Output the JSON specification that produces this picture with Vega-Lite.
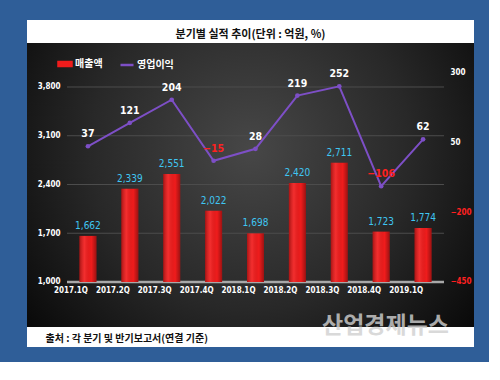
{
  "$schema": "https://vega.github.io/schema/vega-lite/v6.json",
  "background": "#2f5e98",
  "padding": {"left": 27, "top": 20, "right": 15, "bottom": 15},
  "spacing": 0,
  "bounds": "flush",
  "config": {"font": "Noto Sans CJK KR", "view": {"stroke": null}},
  "datasets": {
    "main": [
      {"q": "2017.1Q", "s": 1662, "p": 37},
      {"q": "2017.2Q", "s": 2339, "p": 121},
      {"q": "2017.3Q", "s": 2551, "p": 204},
      {"q": "2017.4Q", "s": 2022, "p": -15},
      {"q": "2018.1Q", "s": 1698, "p": 28},
      {"q": "2018.2Q", "s": 2420, "p": 219},
      {"q": "2018.3Q", "s": 2711, "p": 252},
      {"q": "2018.4Q", "s": 1723, "p": -106},
      {"q": "2019.1Q", "s": 1774, "p": 62}
    ]
  },
  "vconcat": [
    {
      "width": 447,
      "height": 23,
      "view": {"fill": "white", "stroke": null},
      "data": {"values": [{"t": "분기별 실적 추이(단위 : 억원, %)"}]},
      "mark": {"type": "text", "fontSize": 11, "fontWeight": "bold", "color": "#111111", "dy": 3},
      "encoding": {"text": {"field": "t"}}
    },
    {
      "width": 447,
      "height": 284,
      "view": {
        "stroke": null,
        "fill": {
          "gradient": "radial",
          "x1": 0.5, "y1": 0.42, "r1": 0,
          "x2": 0.5, "y2": 0.42, "r2": 0.72,
          "stops": [
            {"offset": 0, "color": "#474747"},
            {"offset": 0.5, "color": "#282828"},
            {"offset": 1, "color": "#000000"}
          ]
        }
      },
      "data": {"name": "main"},
      "layer": [
        {
          "layer": [
            {
              "data": {"values": [{"g": 1700}, {"g": 2400}, {"g": 3100}, {"g": 3800}]},
              "mark": {"type": "rule", "color": "#4d4d4d", "strokeWidth": 1},
              "encoding": {
                "y": {
                  "field": "g", "type": "quantitative",
                  "scale": {"domain": [353.8, 4431.8], "nice": false, "zero": false},
                  "axis": {
                    "title": null, "orient": "left", "offset": -40, "values": [1000, 1700, 2400, 3100, 3800],
                    "format": ",.0f", "grid": false, "domain": false, "ticks": false, "labelPadding": 7,
                    "labelColor": "white", "labelFont": "DejaVu Sans Condensed, Liberation Sans", "labelFontSize": 8,
                    "labelFontWeight": "bold", "labelOverlap": false
                  }
                },
                "x": {"datum": "2017.1Q", "type": "nominal", "bandPosition": 0, "axis": {"title": null}},
                "x2": {"datum": "2019.1Q", "bandPosition": 1}
              }
            },
            {
              "data": {"values": [{"b": 1}]},
              "mark": {"type": "rule", "color": "#a8a8a8", "strokeWidth": 2.5},
              "encoding": {
                "y": {"datum": 1000, "type": "quantitative", "axis": {"title": null, "format": ",.0f"}},
                "x": {"datum": "2017.1Q", "type": "nominal", "bandPosition": 0, "axis": {"title": null}},
                "x2": {"datum": "2019.1Q", "bandPosition": 1}
              }
            },
            {
              "mark": {"type": "bar", "width": 17},
              "encoding": {
                "x": {
                  "field": "q", "type": "nominal", "sort": null,
                  "scale": {
                    "domain": ["2017.1Q", "2017.2Q", "2017.3Q", "2017.4Q", "2018.1Q", "2018.2Q", "2018.3Q", "2018.4Q", "2019.1Q"],
                    "paddingInner": 0, "paddingOuter": 0.8355, "align": 0.5714
                  },
                  "axis": {
                    "title": null, "orient": "bottom", "offset": -45, "domain": false, "ticks": false,
                    "labelAngle": 0, "labelPadding": 8, "labelColor": "white", "labelFont": "DejaVu Sans Condensed, Liberation Sans",
                    "labelFontSize": 8, "labelFontWeight": "bold", "labelOverlap": false
                  }
                },
                "y": {
                  "field": "s", "type": "quantitative",
                  "scale": {"domain": [353.8, 4431.8], "nice": false, "zero": false},
                  "axis": {"title": null, "format": ",.0f"}
                },
                "y2": {"datum": 1000},
                "color": {
                  "datum": "매출액", "type": "nominal",
                  "scale": {"domain": ["매출액", "영업이익"], "range": ["#f01c1c", "#7d4fc6"]},
                  "legend": {
                    "title": null, "orient": "none", "legendX": 30, "legendY": 36, "direction": "horizontal",
                    "padding": 0, "columnPadding": 12, "labelColor": "white", "labelFontSize": 10,
                    "labelFontWeight": "bold", "labelOffset": 2, "symbolSize": 170,
                    "encode": {
                      "symbols": {
                        "update": {
                          "shape": {"signal": "datum.value === '매출액' ? 'M-1,-0.3H1V0.3H-1Z' : 'stroke'"},
                          "fill": {"signal": "datum.value === '매출액' ? '#ee1c1c' : 'transparent'"},
                          "stroke": {"signal": "datum.value === '매출액' ? 'transparent' : '#8a5bd2'"},
                          "strokeWidth": {"value": 2.5},
                          "opacity": {"value": 1}
                        }
                      }
                    }
                  }
                }
              }
            },
            {
              "mark": {
                "type": "bar", "width": 17,
                "color": {
                  "gradient": "linear", "x1": 0, "y1": 0, "x2": 1, "y2": 0,
                  "stops": [
                    {"offset": 0, "color": "rgba(0,0,0,0.3)"},
                    {"offset": 0.3, "color": "rgba(255,120,120,0.2)"},
                    {"offset": 0.7, "color": "rgba(0,0,0,0)"},
                    {"offset": 1, "color": "rgba(0,0,0,0.35)"}
                  ]
                }
              },
              "encoding": {
                "x": {"field": "q", "type": "nominal", "sort": null},
                "y": {"field": "s", "type": "quantitative"},
                "y2": {"datum": 1000}
              }
            },
            {
              "mark": {"type": "text", "baseline": "alphabetic", "dy": -7, "font": "DejaVu Sans Condensed, Liberation Sans", "fontSize": 10, "color": "#3fc6f2"},
              "encoding": {
                "x": {"field": "q", "type": "nominal", "sort": null},
                "y": {"field": "s", "type": "quantitative"},
                "text": {"field": "s", "type": "quantitative", "format": ","}
              }
            }
          ]
        },
        {
          "layer": [
            {
              "mark": {"type": "line", "strokeWidth": 2, "point": {"filled": true, "size": 22}},
              "encoding": {
                "x": {"field": "q", "type": "nominal", "sort": null},
                "y": {
                  "field": "p", "type": "quantitative",
                  "scale": {"domain": [-611.5, 407.6], "nice": false, "zero": false},
                  "axis": {
                    "title": null, "orient": "right", "offset": -30, "values": [-450, -200, 50, 300],
                    "format": "d", "grid": false, "domain": false, "ticks": false, "labelPadding": 6,
                    "labelColor": {"condition": {"test": "datum.value < 0", "value": "#ff2020"}, "value": "white"},
                    "labelFont": "DejaVu Sans Condensed, Liberation Sans", "labelFontSize": 8, "labelFontWeight": "bold", "labelOverlap": false
                  }
                },
                "color": {"datum": "영업이익", "type": "nominal"}
              }
            },
            {
              "mark": {"type": "text", "baseline": "alphabetic", "dy": -9, "font": "DejaVu Sans Condensed, Liberation Sans", "fontSize": 10.5, "fontWeight": "bold"},
              "encoding": {
                "x": {"field": "q", "type": "nominal", "sort": null},
                "y": {"field": "p", "type": "quantitative", "axis": {"title": null, "format": "d"}},
                "text": {"field": "p", "type": "quantitative"},
                "color": {"condition": {"test": "datum.p < 0", "value": "#ff2020"}, "value": "white"}
              }
            }
          ]
        }
      ],
      "resolve": {"scale": {"y": "independent"}, "axis": {"y": "independent"}}
    },
    {
      "width": 447,
      "height": 20,
      "view": {"fill": "white", "stroke": null},
      "layer": [
        {
          "data": {"values": [{"t": "출처 : 각 분기 및 반기보고서(연결 기준)"}]},
          "mark": {"type": "text", "align": "left", "dx": -205, "dy": 2, "fontSize": 10, "fontWeight": "bold", "color": "#111111"},
          "encoding": {"text": {"field": "t"}}
        },
        {
          "data": {"values": [{"t": "산업경제뉴스"}]},
          "mark": {"type": "text", "dx": 135, "dy": -11, "fontSize": 23, "fontWeight": "bold", "color": "#d0d0d0", "opacity": 0.8},
          "encoding": {"text": {"field": "t"}}
        }
      ]
    }
  ]
}
